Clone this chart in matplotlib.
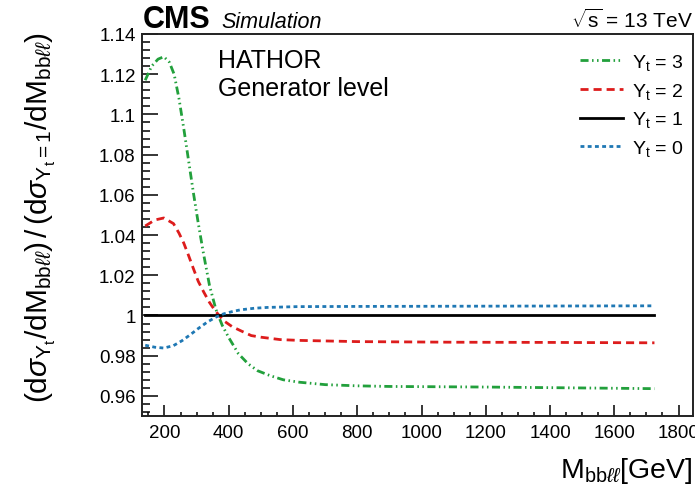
import matplotlib
matplotlib.use('Agg')
import matplotlib.pyplot as plt
import matplotlib.ticker as ticker

plt.rcParams['font.family'] = ['Liberation Sans', 'DejaVu Sans']
plt.rcParams['mathtext.fontset'] = 'custom'
plt.rcParams['mathtext.rm'] = 'Liberation Sans'
plt.rcParams['mathtext.it'] = 'Liberation Sans:italic'
plt.rcParams['mathtext.bf'] = 'Liberation Sans:bold'

# ratio of d(sigma)/dM for each top Yukawa coupling to the SM one (Y_t = 1)
m_yt3 = [140, 160, 180, 198, 215, 230, 245, 260, 275, 290, 305, 320, 340, 360, 380, 400,
         430, 460, 490, 530, 570, 620, 700, 800, 900, 1000, 1200, 1400, 1600, 1725]
r_yt3 = [1.117, 1.124, 1.1275, 1.1287, 1.126, 1.120, 1.108, 1.093, 1.077, 1.061, 1.046,
         1.032, 1.015, 1.003, 0.995, 0.989, 0.981, 0.976, 0.9725, 0.970, 0.968, 0.9668,
         0.9656, 0.965, 0.9647, 0.9646, 0.9644, 0.9641, 0.9638, 0.9636]

m_yt2 = [140, 170, 198, 228, 245, 260, 275, 290, 305, 322, 340, 355, 370, 385, 410, 436,
         470, 500, 560, 620, 800, 1100, 1400, 1725]
r_yt2 = [1.0445, 1.0475, 1.0485, 1.0457, 1.041, 1.036, 1.0298, 1.0233, 1.017, 1.0117,
         1.0065, 1.003, 1.000, 0.9973, 0.9945, 0.9925, 0.990, 0.9892, 0.988, 0.9876,
         0.987, 0.9867, 0.9866, 0.9864]

m_yt1 = [140, 1725]
r_yt1 = [1.0, 1.0]

m_yt0 = [140, 170, 198, 228, 255, 280, 305, 333, 360, 384, 410, 436, 480, 520, 613, 800,
         1100, 1400, 1725]
r_yt0 = [0.9852, 0.9842, 0.9838, 0.985, 0.9875, 0.9904, 0.9935, 0.9967, 0.9992, 1.0008,
         1.0019, 1.0028, 1.0036, 1.004, 1.0044, 1.0045, 1.0046, 1.0047, 1.0048]

fig = plt.figure(figsize=(6.95, 4.89), dpi=100)
ax = fig.add_axes([142 / 695, 1 - 417 / 489, 551 / 695, 382 / 489])

ax.plot(m_yt3, r_yt3, color='#22a03c', lw=2.0,
        linestyle=(0, (2.9, 1.25, 0.55, 1.25, 0.55, 1.25)), label=r'Y$_\mathrm{t}$ = 3')
ax.plot(m_yt2, r_yt2, color='#dd1c1c', lw=2.0,
        linestyle=(0, (2.9, 1.8)), label=r'Y$_\mathrm{t}$ = 2')
ax.plot(m_yt1, r_yt1, color='black', lw=2.0, label=r'Y$_\mathrm{t}$ = 1')
ax.plot(m_yt0, r_yt0, color='#1f78b4', lw=2.0,
        linestyle=(0, (1.4, 1.2)), label=r'Y$_\mathrm{t}$ = 0')

ax.set_xlim(130, 1845)
ax.set_ylim(0.95, 1.14)
ax.xaxis.set_major_locator(ticker.MultipleLocator(200))
ax.xaxis.set_minor_locator(ticker.MultipleLocator(50))
ax.yaxis.set_major_locator(ticker.MultipleLocator(0.02))
ax.yaxis.set_minor_locator(ticker.MultipleLocator(0.004))
ax.yaxis.set_major_formatter(ticker.FormatStrFormatter('%g'))
ax.tick_params(axis='both', which='both', direction='in', labelsize=13.5, width=1.1)
ax.tick_params(axis='x', which='major', length=7.7, pad=6)
ax.tick_params(axis='x', which='minor', length=3.2)
ax.tick_params(axis='y', which='major', length=11.5, pad=4.5)
ax.tick_params(axis='y', which='minor', length=5.8)
for s in ax.spines.values():
    s.set_linewidth(1.4)
    s.set_color('#222222')

ax.set_xlabel(r'M$_{\mathrm{bb}\ell\ell}$[GeV]', fontsize=20.5, loc='right', labelpad=10)
ax.set_ylabel(r'$(\mathrm{d}\sigma_{\mathrm{Y}_{\mathrm{t}}}/\mathrm{dM}_{\mathrm{bb}\ell\ell})\,/\,'
              r'(\mathrm{d}\sigma_{\mathrm{Y}_{\mathrm{t}}=1}/\mathrm{dM}_{\mathrm{bb}\ell\ell})$',
              fontsize=21.5)
ax.yaxis.set_label_coords(-0.152, 0.522)

ax.text(218 / 695, 1 - 61 / 489, 'HATHOR', transform=fig.transFigure,
        fontsize=18, va='center', ha='left')
ax.text(218 / 695, 1 - 89 / 489, 'Generator level', transform=fig.transFigure,
        fontsize=18, va='center', ha='left')

fig.text(143 / 695, 1 - 28 / 489, 'CMS', fontsize=22, weight='bold', va='baseline')
fig.text(221 / 695, 1 - 28 / 489, 'Simulation', fontsize=15.5, style='italic', va='baseline')
fig.text(693 / 695, 1 - 28 / 489, r'$\sqrt{\mathrm{s}}$ = 13 TeV', fontsize=15, ha='right',
         va='baseline')

ax.legend(loc='upper left', bbox_to_anchor=(580 / 695, 1 - 53 / 489),
          bbox_transform=fig.transFigure, frameon=False, fontsize=14,
          handlelength=2.2, handletextpad=0.5, labelspacing=0.45,
          borderpad=0, borderaxespad=0)

fig.savefig('out.png', dpi=100)
